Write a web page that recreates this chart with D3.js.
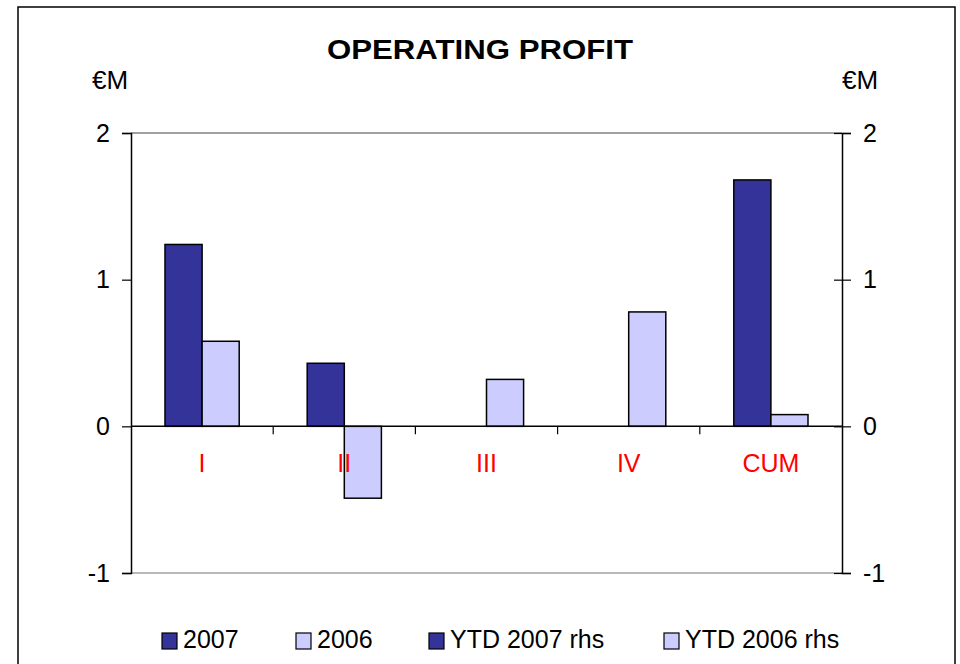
<!DOCTYPE html>
<html>
<head>
<meta charset="utf-8">
<script src="https://cdn.jsdelivr.net/npm/d3@7"></script>
<style>
body { margin: 0; background: #fff; }
text { font-family: "Liberation Sans", Arial, sans-serif; }
</style>
</head>
<body>
<div class="chart"></div>
<script>
var categories = ["I", "II", "III", "IV", "CUM"];
var values2007 = [1.24, 0.43, 0, 0, 1.68];
var values2006 = [0.58, -0.49, 0.32, 0.78, 0.08];
var yTicks = [-1, 0, 1, 2];
var seriesNames = ["2007", "2006"];
var legendNames = ["2007", "2006", "YTD 2007 rhs", "YTD 2006 rhs"];
var colors = ["#333399", "#ccccff"];

var svg = d3.select(".chart").append("svg")
	.attr("width", 960)
	.attr("height", 664);

// outer frame
svg.append("rect").attr("x", 18).attr("y", 7).attr("width", 937).attr("height", 700)
	.attr("fill", "none").attr("stroke", "#000").attr("stroke-width", 1.5);

var pLeft = 131, pRight = 842, pTop = 133, pBottom = 573;

var x0 = d3.scaleBand().domain(categories).range([pLeft, pRight]).padding(0);
var x1 = d3.scaleBand().domain(seriesNames).range([34, x0.bandwidth() - 34]).padding(0);
var y = d3.scaleLinear().domain([-1, 2]).range([pBottom, pTop]);
var fmt = function(d) { return String(d); }; // plain hyphen for -1

// plot border (grey top and bottom)
svg.append("line").attr("x1", pLeft).attr("x2", pRight).attr("y1", y(2)).attr("y2", y(2))
	.attr("stroke", "#808080").attr("stroke-width", 1.5);
svg.append("line").attr("x1", pLeft).attr("x2", pRight).attr("y1", y(-1)).attr("y2", y(-1))
	.attr("stroke", "#a0a0a0").attr("stroke-width", 1.5);

// bars
var rows = categories.map(function(c, i) { return {cat: c, vals: [values2007[i], values2006[i]]}; });
var g = svg.selectAll(".grp").data(rows).enter().append("g")
	.attr("transform", function(d) { return "translate(" + x0(d.cat) + ",0)"; });
g.selectAll("rect").data(function(d) {
		return d.vals.map(function(v, j) { return {s: seriesNames[j], v: v, j: j}; });
	}).enter().filter(function(d) { return d.v != 0; }).append("rect")
	.attr("x", function(d) { return x1(d.s); })
	.attr("width", x1.bandwidth())
	.attr("y", function(d) { return y(Math.max(0, d.v)); })
	.attr("height", function(d) { return Math.abs(y(d.v) - y(0)); })
	.attr("fill", function(d) { return colors[d.j]; })
	.attr("stroke", "#000").attr("stroke-width", 1.5);

// left axis
var la = svg.append("g").attr("transform", "translate(" + pLeft + ",0)")
	.call(d3.axisLeft(y).tickValues(yTicks).tickFormat(fmt).tickSize(9).tickPadding(12));
la.select(".domain").attr("stroke", "#000").attr("stroke-width", 1.5);
la.selectAll(".tick line").attr("stroke-width", 1.2);
la.selectAll("text").style("font-size", "25px").attr("fill", "#000");

// right axis (crossing ticks)
var ra = svg.append("g").attr("transform", "translate(" + pRight + ",0)")
	.call(d3.axisRight(y).tickValues(yTicks).tickFormat(fmt).tickSize(9).tickPadding(12));
ra.select(".domain").attr("stroke", "#000").attr("stroke-width", 1.5);
ra.selectAll(".tick line").attr("x1", -8).attr("stroke-width", 1.2);
ra.selectAll("text").style("font-size", "25px").attr("fill", "#000");

// category axis at zero
svg.append("line").attr("x1", pLeft).attr("x2", pRight).attr("y1", y(0)).attr("y2", y(0))
	.attr("stroke", "#000").attr("stroke-width", 1.5);
svg.selectAll(".ctick").data(categories.slice(1)).enter().append("line")
	.attr("x1", function(d) { return x0(d); }).attr("x2", function(d) { return x0(d); })
	.attr("y1", y(0)).attr("y2", y(0) + 8)
	.attr("stroke", "#000").attr("stroke-width", 1.2);
svg.selectAll(".clabel").data(categories).enter().append("text")
	.attr("x", function(d) { return x0(d) + x0.bandwidth() / 2; })
	.attr("y", y(0) + 46)
	.attr("text-anchor", "middle")
	.style("font-size", "25px").attr("fill", "#ff0000")
	.text(function(d) { return d; });

// title and units
svg.append("text").attr("x", 327).attr("y", 59)
	.attr("textLength", 306).attr("lengthAdjust", "spacingAndGlyphs")
	.style("font-size", "27px").style("font-weight", "bold").text("OPERATING PROFIT");
svg.append("text").attr("x", 92).attr("y", 89).style("font-size", "26px").text("€M");
svg.append("text").attr("x", 842).attr("y", 89).style("font-size", "26px").text("€M");

// legend
var legX = [162, 296, 429, 664];
var leg = svg.selectAll(".leg").data(legendNames).enter().append("g")
	.attr("transform", function(d, i) { return "translate(" + legX[i] + ",633)"; });
leg.append("rect").attr("x", 0).attr("y", 0).attr("width", 15).attr("height", 16)
	.attr("fill", function(d, i) { return colors[i % 2]; })
	.attr("stroke", "#000").attr("stroke-width", 1.2);
leg.append("text").attr("x", 21).attr("y", 15).style("font-size", "25px").text(function(d) { return d; });
</script>
</body>
</html>
